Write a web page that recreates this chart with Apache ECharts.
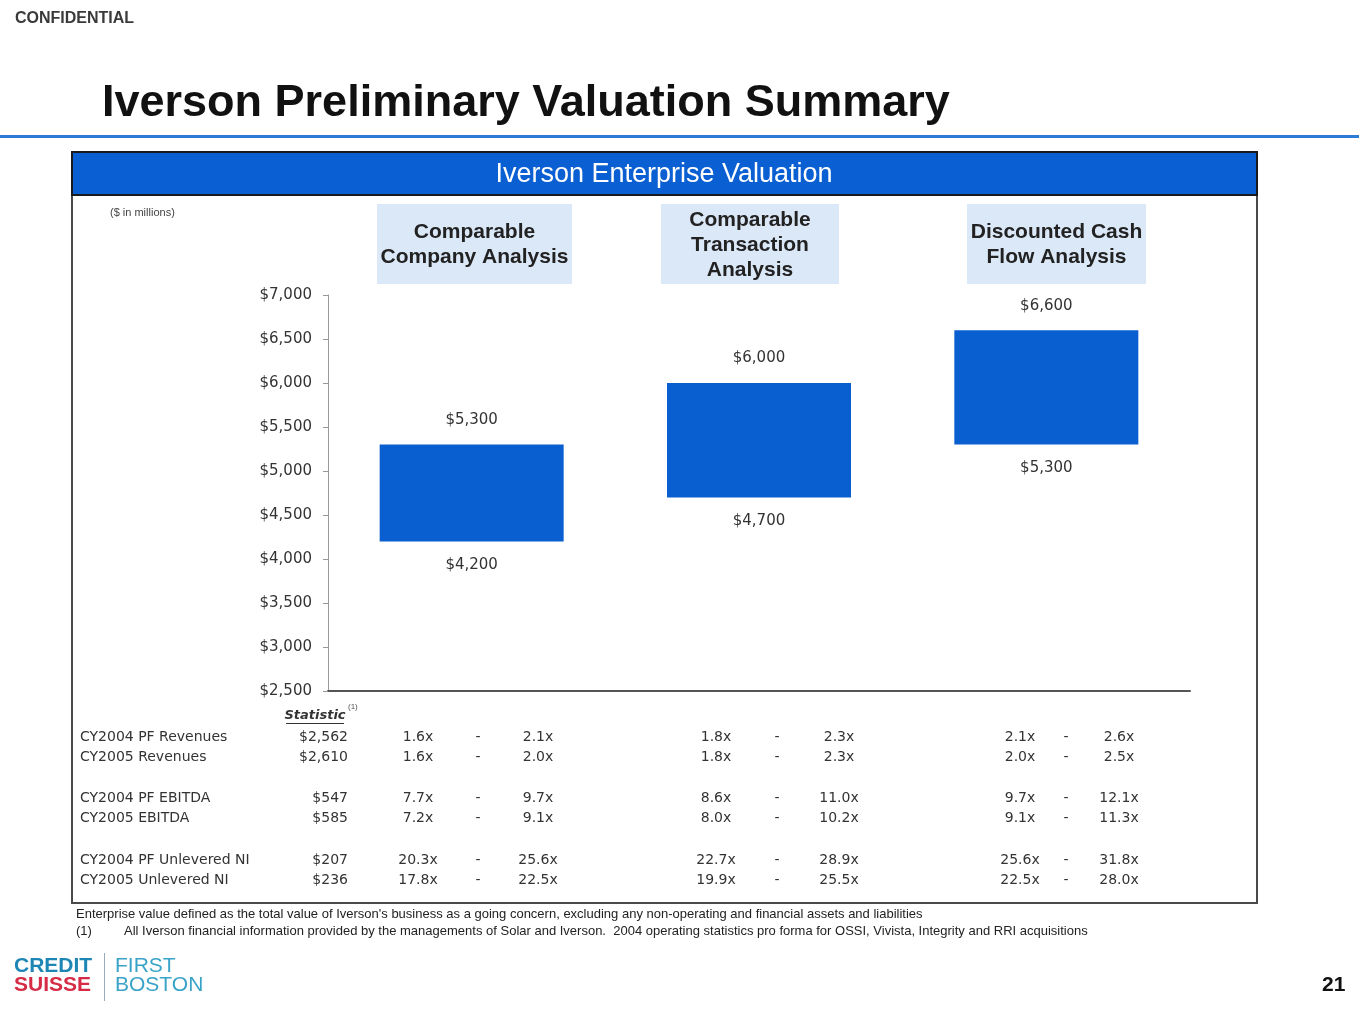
<!DOCTYPE html>
<html>
<head>
<meta charset="utf-8">
<script src="https://cdn.jsdelivr.net/npm/echarts@6/dist/echarts.min.js"></script>
<style>
html,body{margin:0;padding:0;background:#fff;}
#c{width:1359px;height:1020px;}
</style>
</head>
<body>
<div id="c"></div>
<script>
// ---- data ----
var categories = ['Comparable\nCompany Analysis', 'Comparable\nTransaction\nAnalysis', 'Discounted Cash\nFlow Analysis'];
var lowValues = [4200, 4700, 5300];
var highValues = [5300, 6000, 6600];
var yTicks = [2500, 3000, 3500, 4000, 4500, 5000, 5500, 6000, 6500, 7000];

var metrics = ['CY2004 PF Revenues', 'CY2005 Revenues', 'CY2004 PF EBITDA', 'CY2005 EBITDA', 'CY2004 PF Unlevered NI', 'CY2005 Unlevered NI'];
var statistic = ['$2,562', '$2,610', '$547', '$585', '$207', '$236'];
var compCoLow = ['1.6x', '1.6x', '7.7x', '7.2x', '20.3x', '17.8x'];
var compCoHigh = ['2.1x', '2.0x', '9.7x', '9.1x', '25.6x', '22.5x'];
var transLow = ['1.8x', '1.8x', '8.6x', '8.0x', '22.7x', '19.9x'];
var transHigh = ['2.3x', '2.3x', '11.0x', '10.2x', '28.9x', '25.5x'];
var dcfLow = ['2.1x', '2.0x', '9.7x', '9.1x', '25.6x', '22.5x'];
var dcfHigh = ['2.6x', '2.5x', '12.1x', '11.3x', '31.8x', '28.0x'];

var footnote1 = "Enterprise value defined as the total value of Iverson's business as a going concern, excluding any non-operating and financial assets and liabilities";
var footnote2 = "All Iverson financial information provided by the managements of Solar and Iverson.  2004 operating statistics pro forma for OSSI, Vivista, Integrity and RRI acquisitions";

function money(v){ return '$' + v.toLocaleString('en-US'); }

var FONT = 'Arial, "Liberation Sans", sans-serif';
var WIDE = '"DejaVu Sans", Verdana, sans-serif';
var chart = echarts.init(document.getElementById('c'), null, {renderer:'canvas'});

var graphics = [];
// confidential
graphics.push({type:'text', x:15, y:19, style:{text:'CONFIDENTIAL', font:'bold 16px ' + FONT, fill:'#3a3a3a', textVerticalAlign:'middle'}});
// title
graphics.push({type:'text', x:102, y:104, style:{text:'Iverson Preliminary Valuation Summary', font:'bold 45px ' + FONT, fill:'#111', textVerticalAlign:'middle'}});
// blue rule
graphics.push({type:'rect', shape:{x:0, y:135, width:1359, height:3}, style:{fill:'#2b7bd6'}});
// frame
graphics.push({type:'rect', shape:{x:72, y:152, width:1185, height:751}, style:{fill:'none', stroke:'#4a4a4a', lineWidth:2}});
// header band
graphics.push({type:'rect', shape:{x:72, y:152, width:1185, height:43}, style:{fill:'#0a5fd2', stroke:'#1a1a1a', lineWidth:2}});
graphics.push({type:'text', x:664, y:175, style:{text:'Iverson Enterprise Valuation', font:'27px ' + FONT, fill:'#fff', textAlign:'center', textVerticalAlign:'middle'}});
// $ in millions
graphics.push({type:'text', x:110, y:213, style:{text:'($ in millions)', font:'11px ' + FONT, fill:'#444', textVerticalAlign:'middle'}});

// category header boxes
var boxes = [[377, 195], [661, 178], [967, 179]];
for (var i = 0; i < categories.length; i++) {
  graphics.push({type:'rect', shape:{x:boxes[i][0], y:204, width:boxes[i][1], height:80}, style:{fill:'#dbe8f8'}});
  graphics.push({type:'text', x:boxes[i][0] + boxes[i][1]/2, y:245, style:{text:categories[i], font:'bold 21px ' + FONT, fill:'#222', textAlign:'center', textVerticalAlign:'middle', lineHeight:25}});
}

// table
var rowY = [737, 757, 798, 818, 860, 880];
graphics.push({type:'text', x:315, y:716, style:{text:'Statistic', font:'italic bold 13px ' + WIDE, fill:'#333', textAlign:'center', textVerticalAlign:'middle'}});
graphics.push({type:'rect', shape:{x:286, y:723, width:58, height:1}, style:{fill:'#333'}});
graphics.push({type:'text', x:348, y:707, style:{text:'(1)', font:'8px ' + FONT, fill:'#555', textVerticalAlign:'middle'}});
var cols = [
  [compCoLow, 418], [null, 478], [compCoHigh, 538],
  [transLow, 716], [null, 777], [transHigh, 839],
  [dcfLow, 1020], [null, 1066], [dcfHigh, 1119]
];
for (var r = 0; r < metrics.length; r++) {
  graphics.push({type:'text', x:80, y:rowY[r], style:{text:metrics[r], font:'14px ' + WIDE, fill:'#333', textVerticalAlign:'middle'}});
  graphics.push({type:'text', x:348, y:rowY[r], style:{text:statistic[r], font:'14px ' + WIDE, fill:'#333', textAlign:'right', textVerticalAlign:'middle'}});
  for (var c = 0; c < cols.length; c++) {
    var txt = cols[c][0] ? cols[c][0][r] : '-';
    graphics.push({type:'text', x:cols[c][1], y:rowY[r], style:{text:txt, font:'14px ' + WIDE, fill:'#333', textAlign:'center', textVerticalAlign:'middle'}});
  }
}

// footnotes
graphics.push({type:'text', x:76, y:914, style:{text:footnote1, font:'13px ' + FONT, fill:'#222', textVerticalAlign:'middle'}});
graphics.push({type:'text', x:76, y:931, style:{text:'(1)', font:'13px ' + FONT, fill:'#222', textVerticalAlign:'middle'}});
graphics.push({type:'text', x:124, y:931, style:{text:footnote2, font:'13px ' + FONT, fill:'#222', textVerticalAlign:'middle'}});

// logo
graphics.push({type:'text', left:14, top:956, style:{text:'CREDIT', font:'bold 21px ' + FONT, fill:'#1d86b4'}});
graphics.push({type:'text', left:14, top:975, style:{text:'SUISSE', font:'bold 21px ' + FONT, fill:'#d62b45'}});
graphics.push({type:'rect', shape:{x:104, y:953, width:1, height:48}, style:{fill:'#9ab'}});
graphics.push({type:'text', left:115, top:956, style:{text:'FIRST', font:'21px ' + FONT, fill:'#3aa3c8'}});
graphics.push({type:'text', left:115, top:975, style:{text:'BOSTON', font:'21px ' + FONT, fill:'#3aa3c8'}});
// page number
graphics.push({type:'text', left:1322, top:975, style:{text:'21', font:'bold 21px ' + FONT, fill:'#111'}});

var option = {
  animation:false,
  backgroundColor:'#fff',
  grid:{left:328, right:169, top:295, bottom:329, containLabel:false},
  xAxis:{
    type:'category', data:categories,
    axisLine:{lineStyle:{color:'#555', width:2}},
    axisTick:{show:false}, axisLabel:{show:false}, splitLine:{show:false}
  },
  yAxis:{
    type:'value', min:yTicks[0], max:yTicks[yTicks.length-1], interval:500,
    axisLine:{show:true, lineStyle:{color:'#999', width:1}},
    axisTick:{show:true, length:5, lineStyle:{color:'#999'}},
    splitLine:{show:false},
    axisLabel:{margin:16, color:'#333', fontSize:15, fontFamily:WIDE, formatter:function(v){return money(v);}}
  },
  series:[
    {
      type:'bar', stack:'range', data:lowValues, barWidth:184,
      itemStyle:{color:'rgba(0,0,0,0)'},
      label:{show:true, position:'insideTop', distance:16, color:'#333', fontSize:15, fontFamily:WIDE,
        formatter:function(p){return money(lowValues[p.dataIndex]);}},
      silent:true
    },
    {
      type:'bar', stack:'range', barWidth:184,
      data:highValues.map(function(h, i){return h - lowValues[i];}),
      itemStyle:{color:'#0a5fd0'},
      label:{show:true, position:'top', distance:17, color:'#333', fontSize:15, fontFamily:WIDE,
        formatter:function(p){return money(highValues[p.dataIndex]);}}
    }
  ],
  graphic:graphics
};
chart.setOption(option);
</script>
</body>
</html>
